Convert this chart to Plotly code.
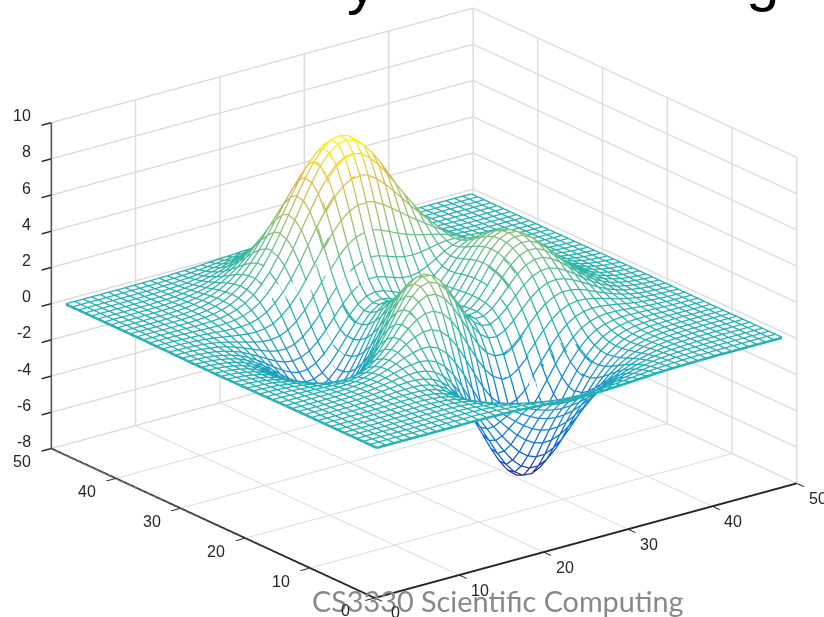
import plotly.graph_objects as go

grid_index = [1,2,3,4,5,6,7,8,9,10,11,12,13,14,15,16,17,18,19,20,21,22,23,24,25,26,27,28,29,30,31,32,33,34,35,36,37,38,39,40,41,42,43,44,45,46,47,48,49]
z_rows = [
[0,0,0,0,0,0,0,0,0,0,0,.01,0,0,-.01,-.02,-.03,-.05,-.08,-.11,-.14,-.17,-.2,-.23,-.25,-.25,-.25,-.24,-.22,-.2,-.17,-.14,-.11,-.08,-.06,-.04,-.03,-.02,-.01,-.01,0,0,0,0,0,0,0,0,0],
[0,0,0,0,0,0,0,0,.01,.01,.01,.01,.01,0,-.01,-.03,-.06,-.09,-.13,-.18,-.24,-.3,-.35,-.39,-.42,-.43,-.43,-.41,-.38,-.34,-.29,-.24,-.19,-.14,-.11,-.08,-.05,-.03,-.02,-.01,-.01,0,0,0,0,0,0,0,0],
[0,0,0,0,0,0,0,.01,.01,.01,.01,.01,.01,0,-.02,-.05,-.09,-.15,-.22,-.3,-.39,-.48,-.56,-.63,-.68,-.7,-.7,-.67,-.61,-.54,-.46,-.38,-.3,-.23,-.17,-.12,-.08,-.05,-.03,-.02,-.01,-.01,0,0,0,0,0,0,0],
[0,0,0,0,0,0,.01,.01,.01,.01,.01,.01,0,-.01,-.05,-.09,-.16,-.25,-.35,-.48,-.62,-.75,-.88,-.99,-1.06,-1.09,-1.08,-1.03,-.95,-.84,-.71,-.59,-.46,-.35,-.26,-.18,-.12,-.08,-.05,-.03,-.02,-.01,0,0,0,0,0,0,0],
[0,0,0,0,0,.01,.01,.01,.02,.02,.02,.02,0,-.02,-.07,-.14,-.24,-.37,-.53,-.72,-.92,-1.12,-1.31,-1.46,-1.57,-1.62,-1.6,-1.53,-1.41,-1.24,-1.06,-.87,-.69,-.52,-.39,-.27,-.18,-.12,-.08,-.05,-.03,-.01,-.01,0,0,0,0,0,0],
[0,0,0,0,0,.01,.01,.02,.02,.02,.03,.02,.01,-.03,-.09,-.19,-.33,-.51,-.74,-1,-1.29,-1.58,-1.84,-2.07,-2.22,-2.29,-2.27,-2.17,-1.99,-1.76,-1.5,-1.23,-.97,-.74,-.54,-.38,-.26,-.17,-.11,-.06,-.04,-.02,-.01,-.01,0,0,0,0,0],
[0,0,0,0,.01,.01,.01,.02,.03,.03,.04,.03,.01,-.04,-.12,-.25,-.44,-.68,-.99,-1.35,-1.74,-2.14,-2.5,-2.81,-3.02,-3.12,-3.1,-2.96,-2.72,-2.41,-2.05,-1.68,-1.32,-1.01,-.74,-.52,-.35,-.22,-.14,-.08,-.05,-.03,-.01,-.01,0,0,0,0,0],
[0,0,0,0,.01,.01,.02,.03,.04,.05,.05,.05,.02,-.03,-.14,-.29,-.53,-.84,-1.23,-1.7,-2.2,-2.71,-3.19,-3.59,-3.88,-4.01,-3.99,-3.82,-3.51,-3.11,-2.64,-2.16,-1.71,-1.29,-.94,-.66,-.44,-.28,-.17,-.1,-.06,-.03,-.01,-.01,0,0,0,0,0],
[0,0,0,.01,.01,.01,.02,.03,.05,.06,.07,.07,.05,-.01,-.13,-.31,-.59,-.97,-1.45,-2.02,-2.64,-3.28,-3.88,-4.4,-4.76,-4.95,-4.93,-4.72,-4.35,-3.85,-3.27,-2.68,-2.1,-1.59,-1.15,-.8,-.53,-.34,-.2,-.12,-.06,-.03,-.01,-.01,0,0,.01,0,0],
[0,0,0,.01,.01,.02,.03,.04,.06,.08,.1,.1,.09,.04,-.08,-.28,-.58,-1,-1.54,-2.2,-2.93,-3.69,-4.41,-5.03,-5.49,-5.73,-5.74,-5.51,-5.08,-4.5,-3.82,-3.12,-2.44,-1.83,-1.32,-.9,-.59,-.37,-.22,-.12,-.06,-.03,-.01,0,0,0,0,0,0],
[0,0,0,.01,.01,.02,.03,.05,.07,.1,.13,.15,.15,.12,.02,-.16,-.46,-.9,-1.48,-2.19,-3.01,-3.86,-4.7,-5.43,-5.98,-6.29,-6.33,-6.1,-5.64,-5,-4.24,-3.45,-2.69,-2,-1.42,-.96,-.61,-.37,-.2,-.1,-.04,-.01,0,.01,.01,0,0,0,0],
[0,0,0,.01,.01,.02,.03,.05,.08,.12,.16,.21,.24,.24,.18,.04,-.22,-.62,-1.19,-1.92,-2.77,-3.69,-4.6,-5.42,-6.06,-6.45,-6.54,-6.35,-5.89,-5.22,-4.43,-3.58,-2.76,-2.03,-1.42,-.93,-.57,-.32,-.16,-.06,-.01,.01,.02,.02,.01,.01,.01,0,0],
[0,0,0,0,.01,.01,.03,.05,.08,.12,.19,.26,.33,.38,.39,.33,.15,-.18,-.68,-1.36,-2.18,-3.12,-4.07,-4.96,-5.68,-6.15,-6.32,-6.18,-5.76,-5.11,-4.32,-3.46,-2.63,-1.89,-1.27,-.79,-.44,-.21,-.07,.01,.04,.05,.05,.03,.03,.02,.01,.01,0],
[0,0,0,0,0,0,.01,.03,.07,.12,.19,.29,.41,.53,.62,.67,.61,.42,.04,-.53,-1.28,-2.17,-3.12,-4.05,-4.83,-5.39,-5.65,-5.6,-5.25,-4.66,-3.9,-3.09,-2.29,-1.57,-.99,-.53,-.22,-.03,.07,.12,.12,.11,.09,.06,.04,.03,.02,.01,.01],
[0,0,-.01,-.01,-.01,-.02,-.01,0,.03,.08,.16,.29,.45,.64,.83,1,1.1,1.08,.88,.47,-.15,-.94,-1.85,-2.78,-3.61,-4.25,-4.6,-4.66,-4.4,-3.9,-3.23,-2.47,-1.74,-1.08,-.56,-.17,.08,.22,.27,.26,.23,.18,.14,.09,.06,.04,.02,.02,.01],
[0,-.01,-.02,-.02,-.03,-.04,-.05,-.05,-.03,.01,.09,.23,.43,.68,.97,1.29,1.56,1.73,1.74,1.53,1.09,.43,-.4,-1.3,-2.16,-2.87,-3.32,-3.48,-3.34,-2.94,-2.36,-1.69,-1.04,-.47,-.02,.29,.46,.52,.5,.44,.36,.27,.19,.13,.09,.05,.03,.02,.01],
[-.01,-.01,-.02,-.04,-.06,-.08,-.1,-.12,-.13,-.11,-.04,.09,.3,.6,.98,1.42,1.86,2.23,2.45,2.47,2.22,1.72,1,.14,-.73,-1.48,-2.02,-2.27,-2.22,-1.92,-1.43,-.85,-.27,.22,.58,.8,.89,.86,.77,.64,.5,.37,.26,.18,.11,.07,.04,.03,.01],
[-.01,-.02,-.04,-.06,-.09,-.13,-.17,-.22,-.26,-.28,-.24,-.14,.07,.39,.83,1.37,1.95,2.5,2.93,3.16,3.11,2.77,2.16,1.37,.51,-.27,-.86,-1.18,-1.21,-.97,-.54,-.02,.49,.91,1.2,1.34,1.33,1.23,1.06,.85,.66,.48,.34,.22,.14,.09,.05,.03,.02],
[-.02,-.03,-.05,-.08,-.12,-.18,-.25,-.34,-.42,-.49,-.51,-.45,-.28,.03,.49,1.09,1.78,2.48,3.08,3.49,3.62,3.43,2.94,2.22,1.4,.61,-.01,-.36,-.41,-.2,.2,.7,1.18,1.56,1.79,1.86,1.78,1.6,1.35,1.08,.82,.59,.42,.27,.18,.11,.06,.04,.02],
[-.02,-.04,-.06,-.1,-.16,-.24,-.35,-.47,-.61,-.73,-.82,-.83,-.72,-.45,0,.63,1.38,2.18,2.92,3.48,3.76,3.7,3.31,2.66,1.88,1.11,.51,.16,.11,.34,.76,1.27,1.75,2.12,2.31,2.33,2.19,1.94,1.63,1.29,.98,.71,.49,.32,.21,.13,.08,.04,.02],
[-.02,-.05,-.08,-.13,-.2,-.3,-.44,-.6,-.8,-.99,-1.16,-1.25,-1.21,-1.01,-.6,.02,.8,1.66,2.49,3.16,3.55,3.6,3.31,2.73,2,1.27,.7,.39,.39,.67,1.14,1.69,2.2,2.57,2.76,2.75,2.56,2.25,1.88,1.48,1.12,.81,.56,.37,.24,.15,.09,.05,.03],
[-.03,-.05,-.09,-.15,-.24,-.36,-.53,-.74,-.98,-1.24,-1.49,-1.66,-1.71,-1.58,-1.23,-.66,.12,1.01,1.89,2.63,3.11,3.25,3.04,2.53,1.86,1.19,.67,.42,.48,.83,1.37,1.98,2.53,2.93,3.11,3.08,2.86,2.51,2.09,1.65,1.25,.9,.62,.41,.26,.16,.09,.05,.03],
[-.03,-.06,-.1,-.17,-.27,-.41,-.6,-.85,-1.14,-1.46,-1.77,-2.03,-2.16,-2.11,-1.83,-1.31,-.56,.32,1.23,2.02,2.56,2.77,2.63,2.19,1.59,.98,.53,.34,.48,.89,1.5,2.16,2.75,3.18,3.37,3.33,3.09,2.7,2.25,1.77,1.34,.96,.67,.44,.28,.17,.1,.06,.03],
[-.03,-.06,-.11,-.18,-.29,-.44,-.66,-.93,-1.26,-1.63,-2,-2.32,-2.53,-2.56,-2.35,-1.88,-1.17,-.31,.6,1.41,2,2.26,2.18,1.81,1.27,.74,.35,.23,.43,.9,1.56,2.27,2.89,3.33,3.53,3.49,3.23,2.82,2.35,1.85,1.4,1,.7,.46,.29,.18,.11,.06,.03],
[-.04,-.07,-.11,-.19,-.3,-.46,-.69,-.98,-1.33,-1.73,-2.14,-2.51,-2.77,-2.86,-2.71,-2.3,-1.65,-.82,.06,.88,1.48,1.78,1.75,1.45,.98,.51,.19,.13,.38,.89,1.57,2.3,2.94,3.38,3.58,3.53,3.27,2.86,2.37,1.87,1.41,1.02,.7,.46,.3,.18,.11,.06,.03],
[-.04,-.07,-.11,-.19,-.3,-.47,-.7,-.99,-1.35,-1.76,-2.2,-2.59,-2.89,-3.02,-2.93,-2.58,-1.98,-1.21,-.36,.43,1.03,1.36,1.37,1.13,.73,.32,.06,.05,.32,.85,1.54,2.26,2.89,3.33,3.53,3.47,3.21,2.81,2.33,1.84,1.39,1,.69,.46,.29,.18,.1,.06,.03],
[-.03,-.06,-.11,-.18,-.29,-.45,-.67,-.96,-1.32,-1.72,-2.16,-2.56,-2.87,-3.03,-2.98,-2.68,-2.15,-1.43,-.64,.1,.68,1.01,1.06,.86,.52,.18,-.03,-.01,.28,.8,1.47,2.16,2.76,3.18,3.36,3.31,3.06,2.67,2.22,1.75,1.32,.95,.66,.43,.28,.17,.1,.06,.03],
[-.03,-.06,-.1,-.17,-.27,-.42,-.63,-.9,-1.24,-1.63,-2.04,-2.43,-2.74,-2.91,-2.88,-2.63,-2.16,-1.51,-.79,-.1,.45,.77,.84,.69,.41,.13,-.04,0,.28,.77,1.38,2.02,2.58,2.96,3.12,3.07,2.83,2.48,2.05,1.62,1.22,.88,.61,.4,.26,.16,.09,.05,.03],
[-.03,-.05,-.09,-.15,-.25,-.38,-.57,-.82,-1.12,-1.47,-1.85,-2.21,-2.49,-2.66,-2.64,-2.42,-2,-1.42,-.76,-.13,.39,.7,.79,.69,.46,.23,.09,.13,.38,.8,1.34,1.9,2.38,2.7,2.84,2.78,2.56,2.23,1.85,1.45,1.09,.79,.54,.36,.23,.14,.08,.05,.02],
[-.03,-.05,-.08,-.13,-.22,-.33,-.5,-.71,-.98,-1.28,-1.61,-1.92,-2.16,-2.3,-2.27,-2.06,-1.67,-1.13,-.52,.08,.57,.89,1.01,.95,.78,.58,.45,.47,.65,.99,1.41,1.85,2.23,2.47,2.55,2.48,2.27,1.97,1.62,1.27,.96,.69,.48,.31,.2,.12,.07,.04,.02],
[-.02,-.04,-.07,-.11,-.18,-.28,-.42,-.59,-.82,-1.07,-1.33,-1.58,-1.76,-1.84,-1.78,-1.55,-1.16,-.64,-.04,.54,1.04,1.39,1.55,1.55,1.42,1.26,1.12,1.08,1.17,1.37,1.65,1.94,2.17,2.31,2.32,2.21,1.99,1.71,1.4,1.1,.82,.59,.4,.27,.17,.1,.06,.03,.02],
[-.02,-.03,-.05,-.09,-.15,-.22,-.33,-.47,-.65,-.84,-1.03,-1.21,-1.32,-1.33,-1.21,-.94,-.51,.03,.65,1.27,1.8,2.21,2.43,2.49,2.42,2.27,2.11,1.99,1.95,1.99,2.08,2.18,2.24,2.24,2.16,1.99,1.76,1.49,1.2,.93,.69,.49,.34,.22,.14,.09,.05,.03,.01],
[-.01,-.03,-.04,-.07,-.11,-.17,-.25,-.36,-.48,-.61,-.74,-.84,-.87,-.8,-.6,-.26,.23,.83,1.51,2.18,2.8,3.28,3.58,3.72,3.69,3.55,3.34,3.13,2.94,2.78,2.66,2.55,2.44,2.28,2.09,1.85,1.58,1.3,1.04,.79,.58,.41,.28,.18,.11,.07,.04,.02,.01],
[-.01,-.02,-.03,-.05,-.08,-.12,-.18,-.25,-.33,-.4,-.46,-.48,-.43,-.28,.01,.43,.99,1.68,2.43,3.19,3.89,4.46,4.86,5.07,5.08,4.94,4.68,4.36,4.01,3.66,3.33,3.01,2.7,2.39,2.07,1.76,1.45,1.16,.9,.67,.48,.34,.23,.15,.09,.06,.03,.02,.01],
[-.01,-.01,-.02,-.04,-.06,-.08,-.12,-.16,-.2,-.22,-.23,-.18,-.05,.18,.55,1.05,1.69,2.45,3.29,4.14,4.92,5.59,6.06,6.34,6.39,6.25,5.94,5.52,5.02,4.5,3.97,3.46,2.97,2.51,2.09,1.7,1.35,1.05,.79,.58,.41,.28,.18,.12,.07,.04,.03,.01,.01],
[-.01,-.01,-.01,-.02,-.03,-.05,-.07,-.08,-.09,-.08,-.03,.07,.26,.56,.98,1.55,2.25,3.07,3.97,4.88,5.73,6.46,7.01,7.34,7.41,7.27,6.91,6.42,5.81,5.14,4.46,3.8,3.17,2.6,2.1,1.65,1.27,.95,.7,.5,.34,.23,.15,.1,.06,.03,.02,.01,0],
[0,-.01,-.01,-.01,-.02,-.02,-.03,-.03,-.01,.03,.11,.25,.48,.81,1.28,1.87,2.61,3.45,4.37,5.31,6.19,6.96,7.53,7.9,7.99,7.85,7.47,6.93,6.25,5.5,4.72,3.96,3.25,2.61,2.05,1.58,1.18,.87,.62,.43,.29,.19,.12,.08,.05,.03,.02,.01,0],
[0,0,0,-.01,-.01,-.01,0,.01,.04,.1,.2,.36,.61,.95,1.42,2.02,2.74,3.58,4.48,5.4,6.27,7.02,7.6,7.97,8.07,7.94,7.56,7,6.31,5.53,4.72,3.92,3.18,2.52,1.95,1.47,1.08,.78,.54,.37,.25,.16,.1,.06,.04,.02,.01,0,0],
[0,0,0,0,0,0,.01,.03,.07,.13,.24,.4,.65,.98,1.43,2,2.67,3.45,4.29,5.15,5.96,6.67,7.22,7.57,7.68,7.55,7.2,6.66,5.99,5.23,4.45,3.68,2.96,2.33,1.78,1.33,.96,.68,.47,.32,.21,.13,.08,.05,.03,.02,.01,0,0],
[0,0,0,0,0,.01,.02,.04,.08,.14,.25,.4,.62,.93,1.33,1.83,2.43,3.12,3.86,4.62,5.34,5.98,6.47,6.78,6.88,6.76,6.45,5.97,5.36,4.68,3.97,3.27,2.62,2.04,1.55,1.14,.82,.58,.39,.26,.17,.11,.07,.04,.02,.01,.01,0,0],
[0,0,0,0,.01,.01,.02,.04,.08,.14,.23,.36,.56,.82,1.16,1.59,2.1,2.68,3.31,3.95,4.56,5.09,5.51,5.77,5.86,5.77,5.5,5.09,4.57,3.98,3.37,2.77,2.21,1.71,1.3,.95,.68,.47,.32,.21,.13,.08,.05,.03,.02,.01,.01,0,0],
[0,0,0,0,.01,.01,.02,.04,.07,.12,.19,.3,.46,.67,.95,1.29,1.7,2.17,2.67,3.18,3.67,4.1,4.43,4.65,4.72,4.65,4.43,4.1,3.68,3.2,2.71,2.22,1.77,1.37,1.03,.75,.53,.37,.25,.16,.1,.06,.04,.02,.01,.01,0,0,0],
[0,0,0,0,.01,.01,.02,.03,.06,.1,.16,.24,.36,.53,.74,1.01,1.32,1.68,2.07,2.46,2.84,3.17,3.43,3.6,3.65,3.59,3.43,3.17,2.84,2.48,2.09,1.71,1.36,1.05,.79,.57,.41,.28,.19,.12,.08,.05,.03,.02,.01,0,0,0,0],
[0,0,0,0,0,.01,.01,.03,.04,.07,.12,.18,.27,.39,.55,.74,.97,1.23,1.52,1.8,2.08,2.32,2.51,2.63,2.67,2.63,2.51,2.32,2.08,1.81,1.53,1.25,.99,.76,.57,.41,.29,.2,.13,.09,.05,.03,.02,.01,.01,0,0,0,0],
[0,0,0,0,0,.01,.01,.02,.03,.05,.08,.13,.19,.28,.39,.52,.69,.87,1.07,1.27,1.47,1.64,1.77,1.86,1.89,1.86,1.77,1.64,1.47,1.28,1.08,.88,.7,.54,.4,.29,.2,.14,.09,.06,.04,.02,.01,.01,0,0,0,0,0],
[0,0,0,0,0,0,.01,.01,.02,.04,.06,.09,.13,.19,.26,.36,.47,.59,.72,.86,.99,1.1,1.19,1.25,1.27,1.25,1.19,1.1,.99,.86,.73,.59,.47,.36,.27,.19,.14,.09,.06,.04,.02,.01,.01,0,0,0,0,0,0],
[0,0,0,0,0,0,0,.01,.01,.02,.04,.06,.09,.12,.17,.23,.3,.38,.47,.55,.64,.71,.77,.81,.82,.81,.77,.71,.64,.55,.47,.38,.3,.23,.17,.12,.09,.06,.04,.02,.01,.01,0,0,0,0,0,0,0],
[0,0,0,0,0,0,0,.01,.01,.02,.02,.04,.05,.08,.11,.14,.19,.24,.29,.35,.4,.44,.48,.5,.51,.5,.48,.44,.4,.35,.29,.24,.19,.14,.11,.08,.05,.04,.02,.02,.01,.01,0,0,0,0,0,0,0],
[0,0,0,0,0,0,0,0,.01,.01,.01,.02,.03,.05,.06,.08,.11,.14,.17,.2,.23,.26,.28,.3,.3,.3,.28,.26,.23,.2,.17,.14,.11,.08,.06,.05,.03,.02,.01,.01,.01,0,0,0,0,0,0,0,0],
]
x_ticks = [0, 10, 20, 30, 40, 50]
z_ticks = [-8, -6, -4, -2, 0, 2, 4, 6, 8, 10]
parula = [[0,"#352a87"],[.14,"#0363e1"],[.29,"#1485d4"],[.43,"#1eafb5"],[.57,"#47bb97"],[.71,"#92bf73"],[.86,"#e5b84e"],[1,"#f8fa0d"]]
Z_MIN, Z_MAX = -6.55, 8.1

fig = go.Figure()
fig.add_surface(x=grid_index, y=grid_index, z=z_rows, colorscale=[[0,"white"],[1,"white"]],
                showscale=False, hoverinfo="skip", lighting=dict(ambient=1, diffuse=0, specular=0, fresnel=0))
def line(xs, ys, zs):
    fig.add_scatter3d(x=xs, y=ys, z=zs, mode="lines", showlegend=False, hoverinfo="skip",
                      line=dict(width=5, color=zs, colorscale=parula, cmin=Z_MIN, cmax=Z_MAX))
for j, y in enumerate(grid_index):
    line(grid_index, [y]*len(grid_index), z_rows[j])
for i, x in enumerate(grid_index):
    line([x]*len(grid_index), grid_index, [r[i] for r in z_rows])

ax = dict(showbackground=False, showgrid=True, gridcolor="#dcdcdc", gridwidth=3, showline=True, linecolor="#262626",
          linewidth=4, ticks="outside", ticklen=12, tickcolor="#262626", tickwidth=3, zeroline=False, title=dict(text=""),
          showticklabels=False, showspikes=False)
label_font = dict(family="Liberation Sans", size=16, color="#262626")
tick_labels = (
    [dict(x=t, y=0, z=-8, text=str(t), xshift=21, yshift=-15, showarrow=False, font=label_font) for t in x_ticks]
  + [dict(x=0, y=t, z=-8, text=str(t), xshift=-29, yshift=-13, showarrow=False, font=label_font) for t in x_ticks]
  + [dict(x=0, y=50, z=t, text=str(t), xanchor="right", xshift=-18, yshift=7, showarrow=False, font=label_font) for t in z_ticks]
)
eye_base = (-.569*1.14, -.742*1.14, .354*1.14)
view_center = (-.0313, .0241, 0)
fig.update_layout(width=824, height=617, margin=dict(l=0,r=0,t=0,b=0), paper_bgcolor="white", showlegend=False,
    scene=dict(domain=dict(x=[0,1], y=[11/617,1]),
        xaxis=dict(ax, range=[0,50], tickvals=x_ticks),
        yaxis=dict(ax, range=[0,50], tickvals=x_ticks),
        zaxis=dict(ax, range=[-8,10], tickvals=z_ticks),
        annotations=tick_labels,
        aspectmode="manual", aspectratio=dict(x=1.755,y=1.755,z=1.15),
        camera=dict(projection=dict(type="orthographic"), up=dict(x=0,y=0,z=1),
                    center=dict(x=view_center[0],y=view_center[1],z=view_center[2]),
                    eye=dict(x=eye_base[0]+view_center[0], y=eye_base[1]+view_center[1], z=eye_base[2]+view_center[2]))),
    annotations=[
      dict(text="CS3330 Scientific Computing", xref="paper", yref="paper", x=498/824, y=-3/617, xanchor="center", yanchor="bottom",
           showarrow=False, font=dict(family="Lato", size=28.8, color="#888888")),
      dict(text="y", xref="paper", yref="paper", x=362/824, y=1, xanchor="center", yanchor="bottom", yshift=-18, showarrow=False,
           font=dict(family="Liberation Sans", size=60, color="black")),
      dict(text="g", xref="paper", yref="paper", x=762/824, y=1, xanchor="center", yanchor="bottom", yshift=-15, showarrow=False,
           font=dict(family="Liberation Sans", size=60, color="black")),
    ])
fig.write_html("out.html", post_script="document.body.style.margin='0';", config=dict(displayModeBar=False))
